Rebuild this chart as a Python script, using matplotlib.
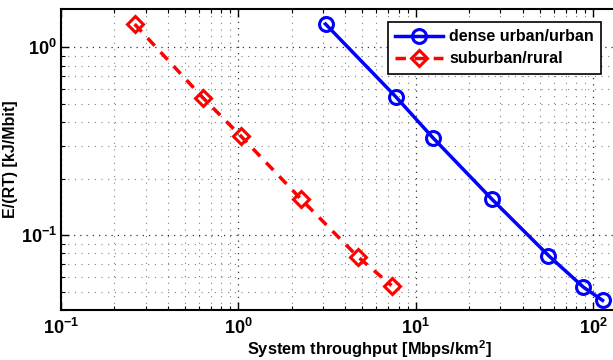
import numpy as np
import matplotlib
matplotlib.use("Agg")
import matplotlib.pyplot as plt
from matplotlib.ticker import LogLocator, FuncFormatter, NullFormatter

plt.rcParams['font.family'] = ['Liberation Sans', 'DejaVu Sans']
plt.rcParams['font.weight'] = 'bold'
plt.rcParams['mathtext.fontset'] = 'custom'
plt.rcParams['mathtext.rm'] = 'Liberation Sans:bold'
plt.rcParams['mathtext.bf'] = 'Liberation Sans:bold'
plt.rcParams['mathtext.default'] = 'bf'

# data
urban_tp = [3.1, 7.7, 12.5, 26.8, 56, 88, 113]
urban_e = [1.33, 0.547, 0.330, 0.156, 0.078, 0.053, 0.045]
rural_tp = [0.26, 0.63, 1.03, 2.25, 4.7, 7.3]
rural_e = [1.33, 0.540, 0.338, 0.156, 0.077, 0.054]

labels = ['dense urban/urban', 'suburban/rural']

fig = plt.figure(figsize=(6.13, 3.6), dpi=100)
# the original axes run past the right edge of the picture
ax = fig.add_axes([61 / 613, 50 / 360, 616 / 613, 301 / 360])

ax.plot(urban_tp, urban_e, '-o', color='blue', lw=2.5, ms=10, mew=2.2,
        mfc='none', label=labels[0])
ax.plot(rural_tp, rural_e, '--D', color='red', lw=2.5, ms=8, mew=2.2,
        mfc='none', label=labels[1], dashes=(3, 2.5))

ax.set_xscale('log')
ax.set_yscale('log')
ax.set_xlim(0.1, 297)
ax.set_ylim(0.04, 1.6)

ax.xaxis.set_major_locator(LogLocator(base=10, numticks=10))
ax.yaxis.set_major_locator(LogLocator(base=10, numticks=10))
ax.xaxis.set_minor_locator(LogLocator(base=10, subs=np.arange(2, 10), numticks=20))
ax.yaxis.set_minor_locator(LogLocator(base=10, subs=np.arange(2, 10), numticks=20))
fmt = FuncFormatter(lambda v, p: r'$10^{%d}$' % int(round(np.log10(v))))
ax.xaxis.set_major_formatter(fmt)
ax.yaxis.set_major_formatter(fmt)
ax.xaxis.set_minor_formatter(NullFormatter())
ax.yaxis.set_minor_formatter(NullFormatter())

ax.tick_params(which='both', direction='in', top=True, right=True, labelsize=13)
ax.tick_params(which='major', length=6, width=1)
ax.tick_params(which='minor', length=3, width=0.8)
ax.tick_params(axis='x', pad=6)
ax.tick_params(axis='y', pad=3)

ax.grid(True, which='major', ls=(0, (1, 4)), color='0.2', lw=0.9)
ax.grid(True, which='minor', ls=(0, (1, 5)), color='0.5', lw=0.8)
for s in ax.spines.values():
    s.set_linewidth(1.5)

ax.set_xlabel('System throughput [Mbps/km$^2$]', fontsize=11.8, fontweight='bold', labelpad=0)
ax.set_ylabel('E/(RT) [kJ/Mbit]', fontsize=11.5, fontweight='bold', labelpad=2)

leg = ax.legend(loc='upper right', bbox_to_anchor=(609 / 613, 346 / 360), bbox_transform=fig.transFigure,
                fancybox=False, framealpha=1, edgecolor='black', fontsize=11.5,
                handlelength=3.0, handletextpad=0.4, borderpad=0.45, labelspacing=0.45)
leg.get_frame().set_linewidth(1.2)

fig.savefig('out.png', dpi=100)
